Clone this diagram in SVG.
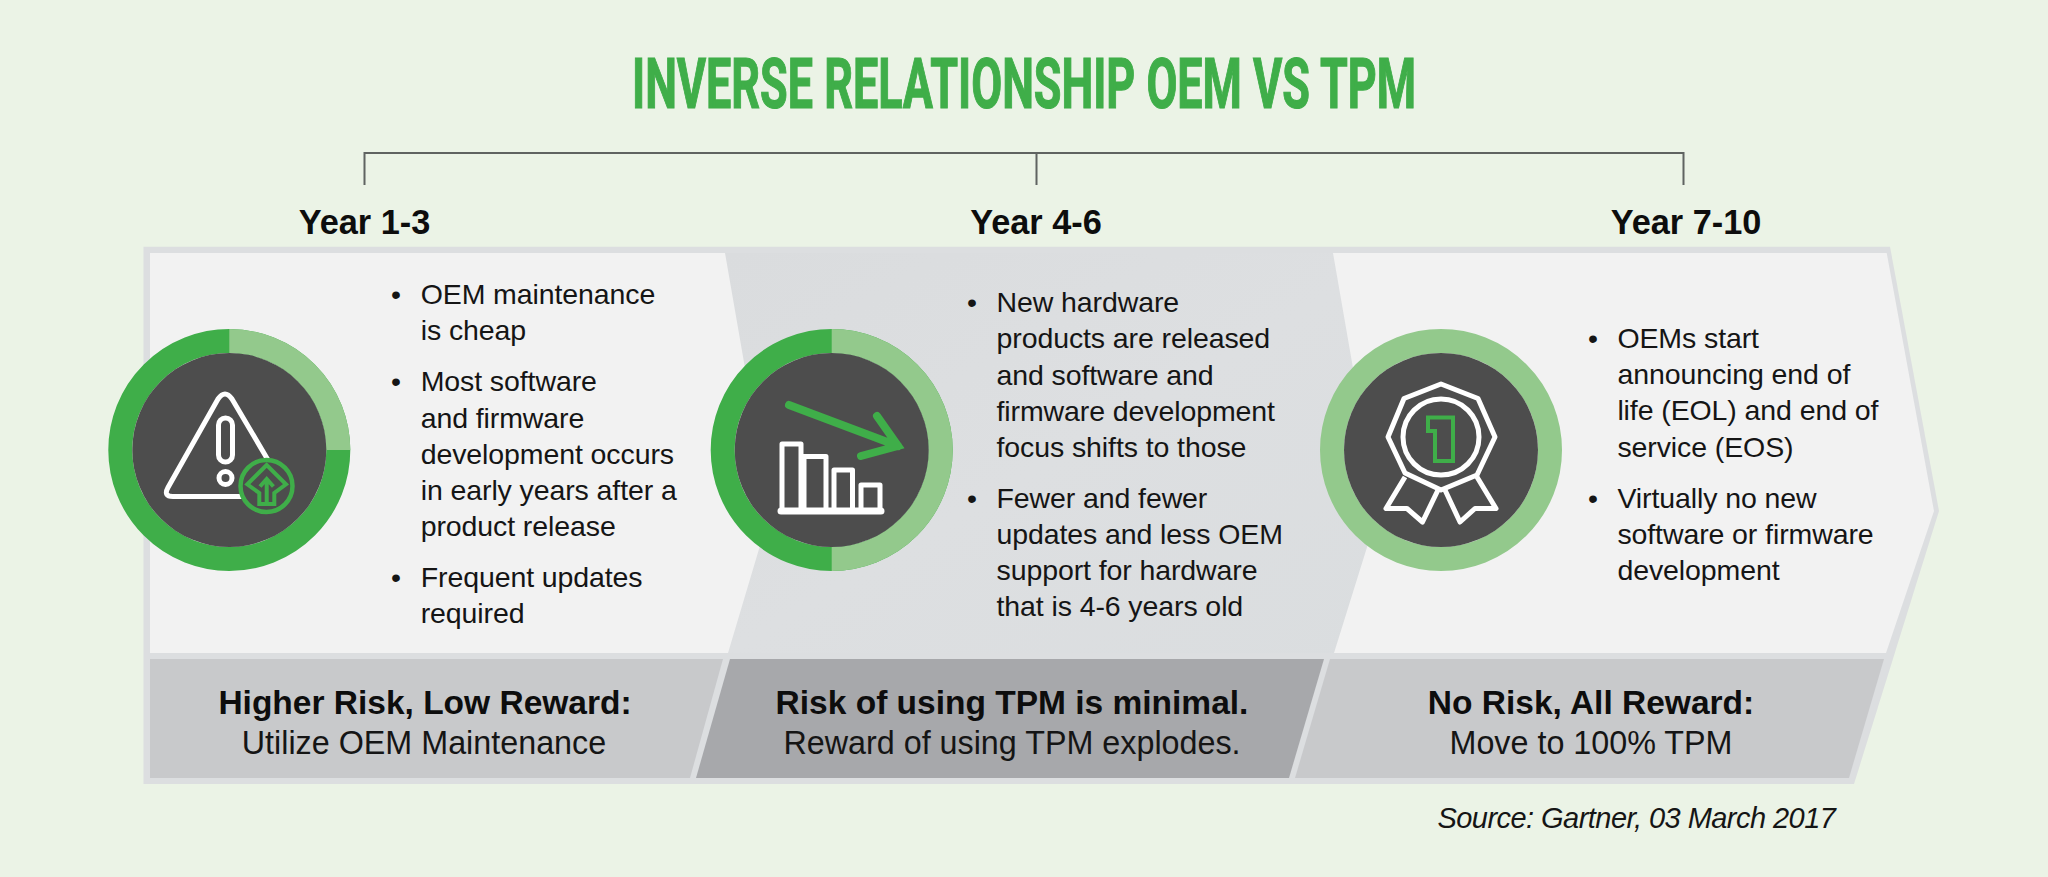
<svg xmlns="http://www.w3.org/2000/svg" width="2048" height="877" viewBox="0 0 2048 877">
<style>
text{font-family:"Liberation Sans",Arial,sans-serif;fill:#151515}
.b{font-size:28.5px;letter-spacing:-.1px}
.h{font-size:34.300px;font-weight:700;text-anchor:middle;fill:#0d0d0d}
.s{font-size:32.300px;text-anchor:middle}
.sb{font-size:33.500px;font-weight:700;fill:#0d0d0d}
.title{font-family:Roboto,"Liberation Sans",sans-serif;font-size:70px;font-weight:700;fill:#3fae49;stroke:#3fae49;stroke-width:1.2px}
.conn{fill:none;stroke:#5f6361;stroke-width:2}
.core{fill:#4d4d4d}
.dark{fill:none;stroke:#3fae49;stroke-width:24}
.light{fill:none;stroke:#93c98c;stroke-width:24}
.w{fill:none;stroke:#fff;stroke-width:5;stroke-linejoin:round}
.g{fill:none;stroke:#3fae49;stroke-width:4;stroke-linejoin:miter}
</style>
<defs>
<linearGradient id="mid" x1="0" y1="0" x2="1" y2="1"><stop offset="0" stop-color="#dadcde"/><stop offset=".5" stop-color="#dddfe1"/><stop offset="1" stop-color="#dadddf"/></linearGradient>
</defs>
<rect width="2048" height="877" fill="#ebf3e6"/>
<text class="title" x="632" y="108" textLength="784" lengthAdjust="spacingAndGlyphs">INVERSE RELATIONSHIP OEM VS TPM</text>
<g id="connectors">
<path class="conn" d="M364.5 185V153H1683.5V185M1036.5 153V185"/>
</g>
<g id="frame">
<polygon points="143.5,246.7 1890,246.7 1939,511 1854,784 143.5,784" fill="#dcdee0"/>
</g>
<g id="panel-year-1-3">
<text class="h" x="364.5" y="234">Year 1-3</text>
<rect x="150" y="253" width="700" height="400" fill="#f2f2f2"/>
</g>
<g id="panel-year-4-6">
<text class="h" x="1036" y="234">Year 4-6</text>
<polygon points="725,253 1400,253 1400,653 728,653 770,512" fill="url(#mid)"/>
</g>
<g id="panel-year-7-10">
<text class="h" x="1686" y="234">Year 7-10</text>
<polygon points="1333,253 1886.7,253 1934,511 1886,653 1334,653 1378,512" fill="#f2f2f2"/>
</g>
<g id="text-year-1-3">
<text class="b" x="391" y="304">•</text><text class="b" x="420.7" y="304">OEM maintenance</text>
<text class="b" x="420.7" y="340">is cheap</text>
<text class="b" x="391" y="391">•</text><text class="b" x="420.7" y="391">Most software</text>
<text class="b" x="420.7" y="427.5">and firmware</text>
<text class="b" x="420.7" y="464">development occurs</text>
<text class="b" x="420.7" y="500">in early years after a</text>
<text class="b" x="420.7" y="536">product release</text>
<text class="b" x="391" y="587">•</text><text class="b" x="420.7" y="587">Frequent updates</text>
<text class="b" x="420.7" y="623">required</text>
</g>
<g id="text-year-4-6">
<text class="b" x="967" y="312">•</text><text class="b" x="996.5" y="312">New hardware</text>
<text class="b" x="996.5" y="348">products are released</text>
<text class="b" x="996.5" y="384.5">and software and</text>
<text class="b" x="996.5" y="420.5">firmware development</text>
<text class="b" x="996.5" y="457">focus shifts to those</text>
<text class="b" x="967" y="507.5">•</text><text class="b" x="996.5" y="507.5">Fewer and fewer</text>
<text class="b" x="996.5" y="544">updates and less OEM</text>
<text class="b" x="996.5" y="580">support for hardware</text>
<text class="b" x="996.5" y="616">that is 4-6 years old</text>
</g>
<g id="text-year-7-10">
<text class="b" x="1588" y="347.5">•</text><text class="b" x="1617.4" y="347.5">OEMs start</text>
<text class="b" x="1617.4" y="384">announcing end of</text>
<text class="b" x="1617.4" y="420">life (EOL) and end of</text>
<text class="b" x="1617.4" y="456.5">service (EOS)</text>
<text class="b" x="1588" y="507.5">•</text><text class="b" x="1617.4" y="507.5">Virtually no new</text>
<text class="b" x="1617.4" y="544">software or firmware</text>
<text class="b" x="1617.4" y="580">development</text>
</g>
<g id="strip-1">
<polygon points="150,659 723,659 690,778 150,778" fill="#c8c9cb"/>
<text class="s sb" x="425" y="714">Higher Risk, Low Reward:</text>
<text class="s" x="424" y="754">Utilize OEM Maintenance</text>
</g>
<g id="strip-2">
<polygon points="730,659 1324,659 1289,778 696,778" fill="#a7a8ab"/>
<text class="s sb" x="1012" y="714">Risk of using TPM is minimal.</text>
<text class="s" x="1012" y="754">Reward of using TPM explodes.</text>
</g>
<g id="strip-3">
<polygon points="1330,659 1884,659 1849,778 1295,778" fill="#c8c9cb"/>
<text class="s sb" x="1591" y="714">No Risk, All Reward:</text>
<text class="s" x="1591" y="754">Move to 100% TPM</text>
</g>
<g id="badge-warning">
<circle cx="229.3" cy="450" r="109" class="dark"/>
<path d="M229.3 341A109 109 0 0 1 338.3 450" class="light"/>
<circle cx="229.3" cy="450" r="97" class="core"/>
<path class="w" d="M243 496.500H173Q163 496.500 168 487.500L218 399Q225 389 232 399L268 460"/>
<rect class="w" x="218.500" y="418" width="14" height="44" rx="7"/>
<circle class="w" cx="225.500" cy="478" r="6.500"/>
<circle cx="266.500" cy="486" r="26" fill="#4d4d4d" stroke="#3fae49" stroke-width="4.500"/>
<path class="g" d="M266.700 465L247.300 484.300L259.300 493V504H274.300V493L286 484.300Z"/>
<path class="g" d="M266.700 503V480M260 486.500L266.700 479L273.400 486.500"/>
</g>
<g id="badge-decline">
<circle cx="831.700" cy="450" r="109" class="dark"/>
<path d="M831.700 341A109 109 0 0 1 831.700 559" class="light"/>
<circle cx="831.700" cy="450" r="97" class="core"/>
<path class="w" d="M782 511V444H801V511M804 511V456.500H826V511M834 511V470H852.500V511M861 511V485H880V511"/>
<path d="M781 511H881" fill="none" stroke="#fff" stroke-width="7" stroke-linecap="round"/>
<path d="M789 405L898 446M877 416L898 446L861 456" fill="none" stroke="#3fae49" stroke-width="8" stroke-linecap="round" stroke-linejoin="miter"/>
</g>
<g id="badge-award">
<circle cx="1441" cy="450" r="109" class="light"/>
<circle cx="1441" cy="450" r="97" class="core"/>
<polygon class="w" points="1441,384 1478,398.500 1495,437 1477,475 1441,490 1405,473 1388,437 1404,398.500"/>
<circle class="w" cx="1441" cy="437" r="38"/>
<path class="w" stroke-linejoin="miter" d="M1405 477L1386 508.500H1407L1422.500 522L1438 490M1477 477L1496 508.500H1475L1460 522L1445 490"/>
<polygon class="g" points="1428,417.500 1453,417.500 1453,461 1435,461 1435,431 1428,431"/>
</g>
<text x="1437.5" y="828" font-size="29" font-style="italic" letter-spacing="-.55">Source: Gartner, 03 March 2017</text>
</svg>
